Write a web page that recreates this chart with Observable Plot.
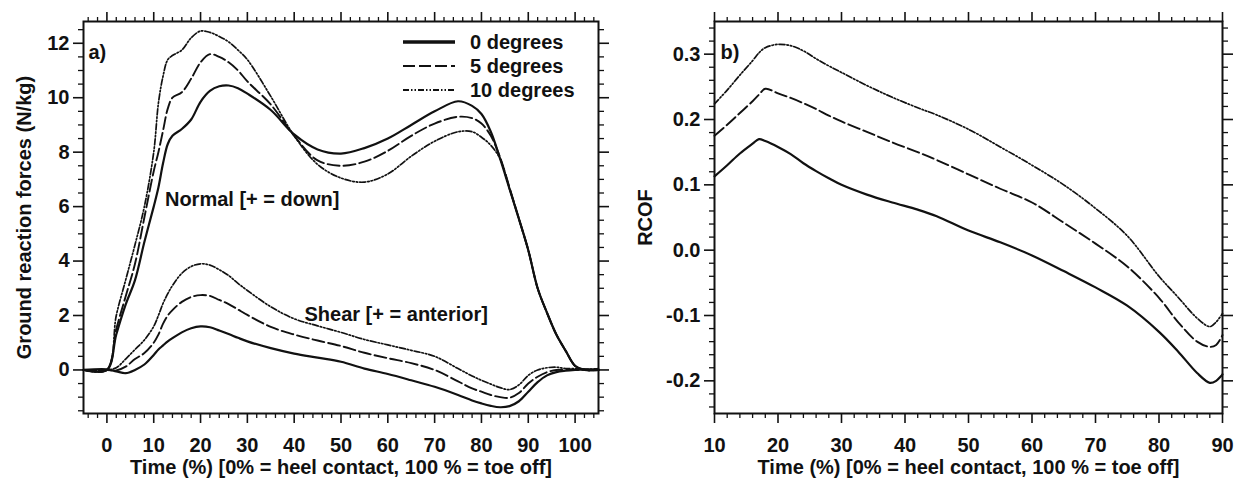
<!DOCTYPE html>
<html><head><meta charset="utf-8">
<script src="https://cdn.jsdelivr.net/npm/d3@7"></script>
<script src="https://cdn.jsdelivr.net/npm/@observablehq/plot@0.6"></script>
<style>
html,body{margin:0;padding:0;background:#fff;}
#wrap{position:relative;width:1240px;height:485px;display:flex;}
#wrap > div{width:620px;height:485px;}
svg{font-family:"Liberation Sans",Arial,sans-serif;}
#legend{position:absolute;left:0;top:0;}
</style></head><body>
<div id="wrap"><div id="a"></div><div id="b"></div><svg id="legend" width="620" height="110"></svg></div>
<script>
// ---------- DATA ----------
const seriesNames = ["0 degrees", "5 degrees", "10 degrees"];

// Panel a) time grid (% of stance)
const timeA = [-5,0,2,4,6,8,10,11,12,13,14,16,18,20,22,24,26,28,30,35,40,45,50,55,60,65,70,75,78,80,82,84,86,88,90,92,94,96,98,100,102,105];

// Normal force (N/kg)
const normal0  = [0,0,1.3,2.4,3.3,4.7,6.0,6.7,7.6,8.3,8.6,8.85,9.2,9.85,10.25,10.42,10.45,10.35,10.15,9.55,8.65,8.1,7.95,8.15,8.5,9.0,9.5,9.87,9.7,9.4,8.75,7.75,6.65,5.55,4.4,3.0,2.1,1.3,0.7,0.15,0,0];
const normal5  = [0,0,1.5,2.7,3.9,5.6,7.3,8.0,8.8,9.6,10.0,10.2,10.7,11.3,11.6,11.5,11.3,11.0,10.6,9.75,8.6,7.7,7.5,7.65,8.05,8.6,9.05,9.3,9.25,9.05,8.6,7.8,6.7,5.55,4.4,3.0,2.1,1.3,0.7,0.15,0,0];
const normal10 = [0,0,2.0,3.3,4.6,6.0,8.0,9.8,10.8,11.4,11.55,11.75,12.2,12.45,12.4,12.25,12.05,11.75,11.4,10.05,8.6,7.55,7.05,6.9,7.2,7.85,8.4,8.75,8.75,8.55,8.25,7.75,6.65,5.55,4.4,3.0,2.1,1.3,0.7,0.15,0,0];

// Shear force (N/kg)
const shear0  = [0,0.02,-0.05,-0.12,0.0,0.2,0.55,0.75,0.9,1.05,1.17,1.38,1.53,1.6,1.57,1.45,1.32,1.18,1.05,0.8,0.6,0.45,0.3,0.05,-0.15,-0.38,-0.62,-0.92,-1.12,-1.23,-1.32,-1.37,-1.33,-1.15,-0.8,-0.45,-0.2,-0.08,-0.03,0,0.02,0];
const shear5  = [0,0,-0.02,0.12,0.4,0.62,1.0,1.3,1.7,2.0,2.2,2.5,2.68,2.75,2.72,2.57,2.42,2.22,2.02,1.58,1.3,1.08,0.88,0.63,0.43,0.25,0.0,-0.42,-0.68,-0.8,-0.92,-1.0,-1.02,-0.85,-0.5,-0.25,-0.08,0,0,0,0.02,0];
const shear10 = [0,0,0.08,0.4,0.75,1.1,1.6,2.0,2.45,2.8,3.1,3.55,3.8,3.9,3.85,3.68,3.47,3.18,2.92,2.32,1.88,1.62,1.38,1.12,0.92,0.72,0.5,0.05,-0.22,-0.38,-0.52,-0.65,-0.72,-0.55,-0.2,0.0,0.08,0.1,0.05,0.05,0.02,0.05];

// Panel b) RCOF
const timeB = [10,12,14,16,17,18,20,22,24,26,28,30,34,38,42,45,50,55,60,65,70,75,80,83,86,88,89,90];
const rcof0  = [0.113,0.13,0.148,0.163,0.17,0.167,0.158,0.147,0.133,0.121,0.11,0.1,0.085,0.073,0.062,0.052,0.03,0.012,-0.008,-0.032,-0.057,-0.085,-0.125,-0.155,-0.188,-0.203,-0.2,-0.19];
const rcof5  = [0.175,0.192,0.21,0.228,0.238,0.247,0.24,0.233,0.225,0.216,0.206,0.197,0.181,0.165,0.15,0.138,0.116,0.094,0.073,0.042,0.01,-0.025,-0.073,-0.11,-0.14,-0.148,-0.145,-0.13];
const rcof10 = [0.224,0.245,0.268,0.29,0.302,0.31,0.315,0.313,0.305,0.293,0.282,0.272,0.252,0.234,0.218,0.207,0.185,0.158,0.13,0.1,0.064,0.022,-0.04,-0.072,-0.104,-0.117,-0.11,-0.097];

// Tick values
const xMajorA = [0,10,20,30,40,50,60,70,80,90,100];
const yMajorA = [0,2,4,6,8,10,12];
const xMajorB = [10,20,30,40,50,60,70,80,90];
const yMajorB = [-0.2,-0.1,0.0,0.1,0.2,0.3];

// Text
const xLabel = "Time (%) [0% = heel contact, 100 % = toe off]";
const yLabelA = "Ground reaction forces (N/kg)";
const yLabelB = "RCOF";
const normalLabel = "Normal [+ = down]";
const shearLabel = "Shear [+ = anterior]";

// ---------- BUILD ----------
const rows = (t, v) => t.map((x, i) => ({t: x, v: v[i]}));
const lineStyle = {
  "0 degrees":  {strokeWidth: 2.2, strokeDasharray: null},
  "5 degrees":  {strokeWidth: 1.9, strokeDasharray: "12,4"},
  "10 degrees": {strokeWidth: 1.7, strokeDasharray: "6,2,1.5,2,1.5,2"}
};
const lineMark = (t, v, name) => Plot.line(rows(t, v), {x: "t", y: "v", curve: "catmull-rom", stroke: "#111",
  strokeWidth: lineStyle[name].strokeWidth, strokeDasharray: lineStyle[name].strokeDasharray || undefined});

const minors = (lo, hi, step, majors) => d3.range(Math.round((hi - lo) / step) + 1)
  .map(i => +(lo + i * step).toFixed(4))
  .filter(v => !majors.some(m => Math.abs(m - v) < step / 10));

const baseStyle = {fontFamily: '"Liberation Sans", Arial, sans-serif', fontSize: "20px", fontWeight: "bold", background: "white", color: "#111", overflow: "visible"};
const noText = () => "";

function tickAxes(xMaj, xMin, yMaj, yMin, xFmt, yFmt) {
  return [
    Plot.axisX({anchor: "bottom", ticks: xMaj, tickSize: 10, tickPadding: 14, strokeWidth: 1.6, tickFormat: xFmt, label: null}),
    Plot.axisX({anchor: "bottom", ticks: xMin, tickSize: 5, strokeWidth: 1.3, tickFormat: noText, label: null}),
    Plot.axisX({anchor: "top", ticks: xMaj, tickSize: 10, strokeWidth: 1.6, tickFormat: noText, label: null}),
    Plot.axisX({anchor: "top", ticks: xMin, tickSize: 5, strokeWidth: 1.3, tickFormat: noText, label: null}),
    Plot.axisY({anchor: "left", ticks: yMaj, tickSize: 10, tickPadding: 4, strokeWidth: 1.6, tickFormat: yFmt, label: null}),
    Plot.axisY({anchor: "left", ticks: yMin, tickSize: 5, strokeWidth: 1.3, tickFormat: noText, label: null}),
    Plot.axisY({anchor: "right", ticks: yMaj, tickSize: 10, strokeWidth: 1.6, tickFormat: noText, label: null}),
    Plot.axisY({anchor: "right", ticks: yMin, tickSize: 5, strokeWidth: 1.3, tickFormat: noText, label: null}),
    Plot.frame({stroke: "#111", strokeWidth: 2})
  ];
}

const plotA = Plot.plot({
  width: 620, height: 485,
  marginLeft: 83, marginRight: 22, marginTop: 21, marginBottom: 72,
  style: baseStyle,
  x: {domain: [-5, 105], label: null},
  y: {domain: [-1.6, 12.8], label: null},
  marks: [
    ...tickAxes(xMajorA, minors(-4, 104, 2, xMajorA), yMajorA, minors(-1.5, 12.5, 0.5, yMajorA), d => String(d), d => String(d)),
    lineMark(timeA, normal0, "0 degrees"),
    lineMark(timeA, normal5, "5 degrees"),
    lineMark(timeA, normal10, "10 degrees"),
    lineMark(timeA, shear0, "0 degrees"),
    lineMark(timeA, shear5, "5 degrees"),
    lineMark(timeA, shear10, "10 degrees"),
    Plot.text(["a)"], {text: d => d, frameAnchor: "top-left", dx: 5, dy: 31, textAnchor: "start", lineAnchor: "middle"}),
    Plot.text([{s: normalLabel, t: 12.4, v: 6.25}, {s: shearLabel, t: 42.2, v: 2.05}], {x: "t", y: "v", text: "s", textAnchor: "start", lineAnchor: "middle"}),
    Plot.text([xLabel], {text: d => d, frameAnchor: "bottom", dy: 54, textAnchor: "middle", lineAnchor: "middle"}),
    Plot.text([yLabelA], {text: d => d, frameAnchor: "left", dx: -59, rotate: -90, textAnchor: "middle", lineAnchor: "middle"})
  ]
});
document.getElementById("a").append(plotA);

const plotB = Plot.plot({
  width: 620, height: 485,
  marginLeft: 94, marginRight: 18, marginTop: 21, marginBottom: 72,
  style: baseStyle,
  x: {domain: [10, 90], label: null},
  y: {domain: [-0.25, 0.35], label: null},
  marks: [
    ...tickAxes(xMajorB, minors(10, 90, 2, xMajorB), yMajorB, minors(-0.24, 0.34, 0.02, yMajorB), d => String(d), d => d.toFixed(1)),
    lineMark(timeB, rcof0, "0 degrees"),
    lineMark(timeB, rcof5, "5 degrees"),
    lineMark(timeB, rcof10, "10 degrees"),
    Plot.text(["b)"], {text: d => d, frameAnchor: "top-left", dx: 6, dy: 31, textAnchor: "start", lineAnchor: "middle"}),
    Plot.text([xLabel], {text: d => d, frameAnchor: "bottom", dy: 54, textAnchor: "middle", lineAnchor: "middle"}),
    Plot.text([yLabelB], {text: d => d, frameAnchor: "left", dx: -69, rotate: -90, textAnchor: "middle", lineAnchor: "middle"})
  ]
});
document.getElementById("b").append(plotB);

// ---------- LEGEND (overlay, top right of panel a) ----------
const leg = d3.select("#legend");
const legendWidth = {"0 degrees": 3.6, "5 degrees": 2.2, "10 degrees": 2.0};
seriesNames.forEach((name, i) => {
  const g = leg.append("g").attr("transform", `translate(403, ${42 + i * 24})`);
  g.append("line").attr("x1", 0).attr("x2", 52).attr("y1", 0).attr("y2", 0)
    .attr("stroke", "#111").attr("stroke-width", legendWidth[name])
    .attr("stroke-dasharray", lineStyle[name].strokeDasharray);
  g.append("text").attr("x", 67).attr("dy", "0.35em").attr("fill", "#111")
    .style("font-size", "20px").style("font-weight", "bold").text(name);
});
</script>
</body></html>
